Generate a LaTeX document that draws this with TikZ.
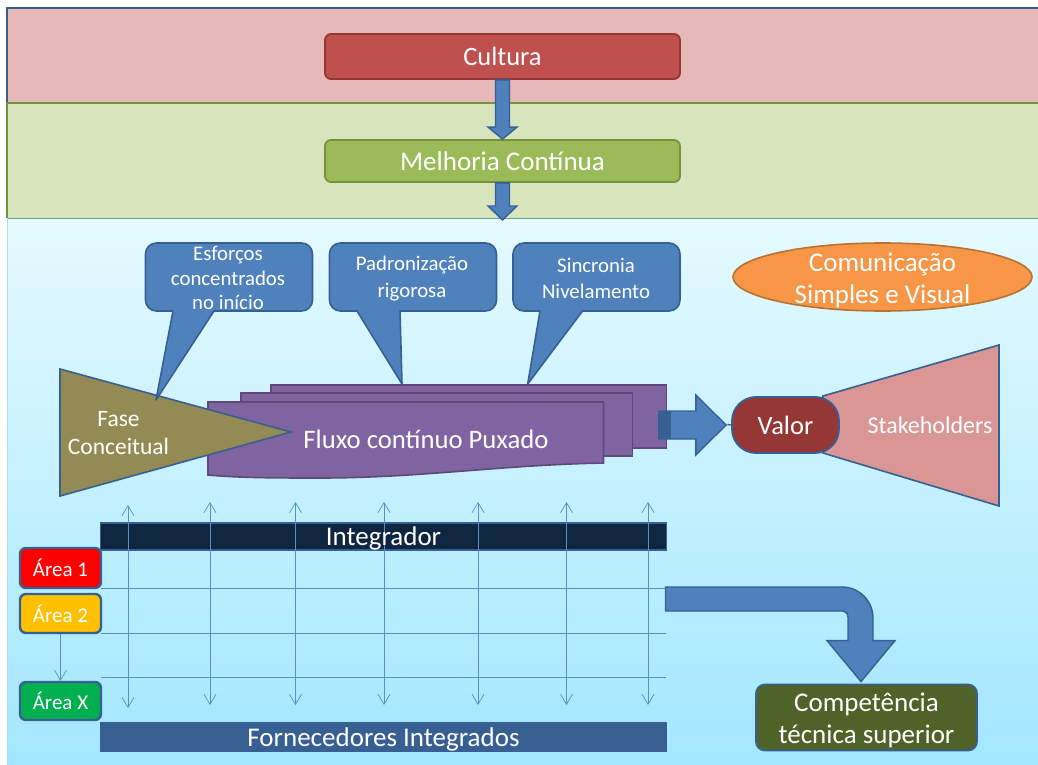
\documentclass[tikz,border=0pt]{standalone}
\usepackage{fontspec}
\setmainfont{Carlito}
\usetikzlibrary{arrows.meta,calc,shapes.geometric}
\definecolor{edgeblue}{HTML}{376092}
\definecolor{fillblue}{HTML}{4F81BD}
\definecolor{thinblue}{HTML}{5592C0}
\definecolor{purplefill}{HTML}{8064A2}
\definecolor{purpleedge}{HTML}{5F497A}
\definecolor{skytop}{HTML}{E5FAFF}
\definecolor{skybot}{HTML}{A2E7FF}
\definecolor{pinkband}{HTML}{E6B8B7}
\definecolor{greenband}{HTML}{D8E4BC}
\definecolor{oliveedge}{HTML}{76923C}
\definecolor{tealedge}{HTML}{5FA59A}
\definecolor{paleedge}{HTML}{B5DDEB}
\definecolor{redfill}{HTML}{C0504D}
\definecolor{rededge}{HTML}{953735}
\definecolor{greenfill}{HTML}{9BBB59}
\definecolor{khaki}{HTML}{948A54}
\definecolor{orangefill}{HTML}{F79646}
\definecolor{orangeedge}{HTML}{B87333}
\definecolor{rosefill}{HTML}{D99694}
\definecolor{navybar}{HTML}{10253F}
\definecolor{steelbar}{HTML}{375F92}
\definecolor{amber}{HTML}{FFC000}
\definecolor{greenarea}{HTML}{00B050}
\definecolor{mossfill}{HTML}{4F6228}
\newcommand{\fs}[1]{\fontsize{#1}{#1}\selectfont}
% left, right, pointer base left, pointer base right, tip x, tip y
\newcommand{\calloutshape}[6]{%
  \draw[callout] (#3,311) -- ({#1+11},311) arc[start angle=270,end angle=180,radius=11pt]
    -- (#1,254) arc[start angle=180,end angle=90,radius=11pt]
    -- ({#2-11},243) arc[start angle=90,end angle=0,radius=11pt]
    -- (#2,300) arc[start angle=0,end angle=-90,radius=11pt]
    -- (#4,311) -- (#5,#6) -- cycle;}
\tikzset{
  x=1pt,y=-1pt,
  box/.style={draw,rounded corners=6,line width=1.8,inner sep=0,text=white,align=center},
  label/.style={text=white,inner sep=0,align=center},
  blockarrow/.style={draw=edgeblue,fill=fillblue,line width=1.4,line join=miter},
  callout/.style={draw=edgeblue,fill=fillblue,line width=1.6,line join=round},
  doc/.style={draw=purpleedge,fill=purplefill,line width=1.6,inner sep=0},
  funnel/.style={draw=edgeblue,line width=1.6,line join=miter},
  thinline/.style={draw=thinblue,line width=0.7},
  thinarrow/.style={thinline,{Straight Barb[length=10,width=12,line width=0.7]}-{Straight Barb[length=10,width=12,line width=0.7]}},
  downarrow/.style={thinline,-{Straight Barb[length=10,width=12,line width=0.7]}},
  areabox/.style={draw=edgeblue,line width=2.4,rounded corners=6,inner sep=0,text=white,minimum width=81,font=\fs{21}},
  bar/.style={draw=edgeblue,line width=1.4,inner sep=0,minimum width=566,text=white},
}
\begin{document}
\begin{tikzpicture}
\useasboundingbox (0,0) rectangle (1038,765);
\fill[white] (0,0) rectangle (1038,765);
% bands
\shade[top color=skytop,bottom color=skybot] (7,218) rectangle (1038,765);
\fill[pinkband] (7,8) rectangle (1038,103);
\fill[greenband] (7,103) rectangle (1038,218);
\draw[draw=edgeblue,line width=1.2] (1038,8) -- (7,8) -- (7,103);
\draw[draw=oliveedge,line width=1.2] (7,218) -- (7,103) -- (1038,103);
\draw[draw=tealedge,line width=1] (7,218) -- (1038,218);
\draw[draw=paleedge,line width=1] (7,218) -- (7,765);
% top boxes
\node[box,draw=rededge,fill=redfill,minimum width=355,minimum height=45,font=\fs{26.5}] (cultura) at (502.5,56.5) {Cultura};
\node[box,draw=oliveedge,fill=greenfill,minimum width=355,minimum height=42,font=\fs{27}] (melhoria) at (502.5,161) {Melhoria Contínua};
\coordinate (flowtop) at (502,220);
\draw[blockarrow] let \p1=(cultura.south),\p2=(melhoria.north) in
  (\x1-7pt,\y1) -- (\x1-7pt,\y2+12pt) -- (\x1-14.5pt,\y2+12pt) -- (\x1,\y2) -- (\x1+14.5pt,\y2+12pt) -- (\x1+7pt,\y2+12pt) -- (\x1+7pt,\y1) -- cycle;
\draw[blockarrow] let \p1=(melhoria.south),\p2=(flowtop) in
  (\x1-7pt,\y1) -- (\x1-7pt,\y2+14pt) -- (\x1-14.5pt,\y2+14pt) -- (\x1,\y2) -- (\x1+14.5pt,\y2+14pt) -- (\x1+7pt,\y2+14pt) -- (\x1+7pt,\y1) -- cycle;
% purple documents
\node[doc,minimum width=395.5,minimum height=63] (docback) at (468.75,416.5) {};
\node[doc,minimum width=391.5,minimum height=63] (docmid) at (436.75,424.5) {};
\draw[doc] (208,402) -- (603.5,402) -- (603.5,463) .. controls (500,465) and (420,478) .. (320,478) .. controls (280,478) and (240,478) .. (208,475) -- cycle;
\node[label,font=\fs{26.7}] (fluxo) at (426,439) {Fluxo contínuo Puxado};
% fase conceitual
\draw[funnel,fill=khaki] (60,369) -- (291,432) -- (60,496) -- cycle;
\node[label,font=\fs{23.5}] (fase) at (118.5,433.5) {Fase\\[4.5pt]Conceitual};
% callouts
\calloutshape{145.5}{312.5}{173}{214}{156}{400}
\calloutshape{329.5}{496.5}{357}{400}{402}{384}
\calloutshape{513}{680}{540}{582.5}{527.7}{384}
\node[label,font=\fs{20.8}] (esforcos) at (228,278) {Esforços\\[3.5pt]concentrados\\[3.5pt]no início};
\node[label,font=\fs{20.8}] (padron) at (412,278.5) {Padronização\\[5.5pt]rigorosa};
\node[label,font=\fs{20.8}] (sincronia) at (596,278.5) {Sincronia\\[5.5pt]Nivelamento};
% comunicacao
\node[ellipse,draw=orangeedge,fill=orangefill,line width=1.6,minimum width=299,minimum height=68,inner sep=0] (comun) at (882.5,277) {};
\node[label,font=\fs{27}] (comuntext) at (882.5,280.5) {Comunicação\\[5pt]Simples e Visual};
% stakeholders and valor
\draw[funnel,fill=rosefill] (823,396) -- (999,345) -- (999,506) -- (823,453) -- cycle;
\node[label,font=\fs{24}] (stake) at (930,425.5) {Stakeholders};
\node[draw=edgeblue,fill=rededge,line width=1.8,rounded corners=24,minimum width=107,minimum height=56,inner sep=0,text=white,font=\fs{26.5}] (valor) at (785.5,425) {Valor};
% arrow to valor
\draw[edgeblue,line width=1.4] ($(docback.east)+(60,8)$) -- (valor.west);
\draw[blockarrow] let \p1=(docback.east),\p2=(valor.west) in
  (\x1-8.5pt,\y2+14pt) -- (\x1+28.5pt,\y2+14pt) -- (\x1+28.5pt,\y2+30pt) -- (\x2-5pt,\y2) -- (\x1+28.5pt,\y2-30pt) -- (\x1+28.5pt,\y2-14pt) -- (\x1-8.5pt,\y2-14pt) -- cycle;
\fill[edgeblue] let \p1=(docback.east),\p2=(valor.west) in (\x1-8.5pt,\y2+14pt) rectangle (\x1+3.5pt,\y2-14pt);
% bars
\node[bar,fill=navybar,minimum height=27] (integ) at (383.5,536.5) {};
\node[bar,draw=steelbar,fill=steelbar,minimum height=28] (forn) at (383.5,737) {};
\node[label,font=\fs{27}] (forntext) at (383.5,739) {Fornecedores Integrados};
% area boxes
\node[areabox,fill=red,minimum height=40] (a1) at (60.5,568) {Área 1};
\node[areabox,fill=amber,minimum height=39] (a2) at (60.5,613.5) {Área 2};
\node[areabox,fill=greenarea,minimum height=38] (ax) at (60.5,701) {Área X};
% grid
\foreach \n/\yy in {a/588,b/633,c/677}{
  \coordinate (hl\n) at (101,\yy);
  \coordinate (hr\n) at (666,\yy);
  \draw[thinline] (hl\n) -- (hr\n);
}
\foreach \n/\xx/\t/\b in {1/128/505/708,2/210/502/705,3/295.5/502/705,4/384/502/705,5/478/502/705,6/566.5/502/705,7/648/502/705}{
  \coordinate (vt\n) at (\xx,\t);
  \coordinate (vb\n) at (\xx,\b);
  \draw[thinarrow] (vt\n) -- (vb\n);
}
\draw[downarrow] (a2.south) -- (ax.north);
\node[label,font=\fs{27}] (integtext) at (383.5,538.5) {Integrador};
% competencia
\node[box,draw=edgeblue,fill=mossfill,rounded corners=9,minimum width=221,minimum height=66] (comp) at (866.5,717.5) {};
\node[label,font=\fs{27}] (comptext) at (866.5,720.5) {Competência\\[5pt]técnica superior};
\coordinate (bentstart) at (665.5,599);
\draw[blockarrow] let \p1=(bentstart),\p2=(comp.north) in
  (\x1,\y1+12pt) -- (842pt,\y1+12pt) arc[start angle=90,end angle=0,radius=31pt]
  -- (873pt,-640.6pt) -- (895pt,-640.6pt) -- (861pt,\y2+2pt) -- (827pt,-640.6pt) -- (848pt,-640.6pt)
  -- (848pt,\y1-18pt) arc[start angle=0,end angle=90,radius=6pt] -- (\x1,\y1-12pt) -- cycle;
\end{tikzpicture}
\end{document}
